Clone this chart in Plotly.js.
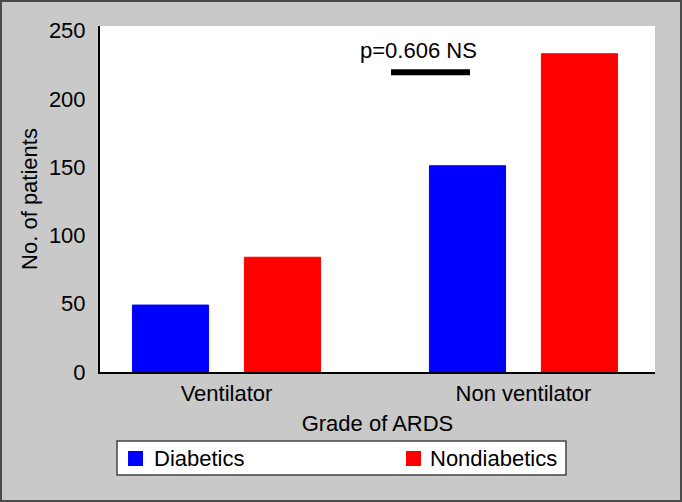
<!DOCTYPE html>
<html>
<head>
<meta charset="utf-8">
<script src="https://cdn.plot.ly/plotly-3.0.1.min.js"></script>
<style>
  html, body { margin: 0; padding: 0; background: #4a4a4a; }
  #chart { width: 678px; height: 498px; border: 2px solid #4a4a4a; }
</style>
</head>
<body>
<div id="chart"></div>
<script>
const categories = ["Ventilator", "Non ventilator"];
const diabetics = [49, 151];
const nondiabetics = [84, 233];
const seriesNames = ["Diabetics", "Nondiabetics"];
const seriesColors = ["#0000ff", "#ff0000"];
const yTicks = [0, 50, 100, 150, 200, 250];
const pLabel = "p=0.606 NS";
const pLineLevel = 219.5;

const FONT = "Liberation Sans, Arial, Helvetica, sans-serif";

const traces = [diabetics, nondiabetics].map((vals, i) => ({
  type: "bar", name: seriesNames[i], x: categories, y: vals,
  marker: { color: seriesColors[i], line: { color: seriesColors[i], width: 1 } },
  hoverinfo: "skip", showlegend: false
}));

// Manual legend (paper coordinates) to match the framed legend box below the axis
const legendBox = { x0: 0.0306, x1: 0.8396, y0: -0.1994, y1: -0.2977 };
const legendSymbolX = [[0.0505, 0.0775], [0.5514, 0.5784]];
const legendTextX = [0.0955, 0.5928];
const legendSymbolY = [-0.2283, -0.2717];
const legendTextY = -0.2486;

const shapes = [
  {
    type: "line", xref: "x", yref: "y",
    x0: 0.554, x1: 0.82, y0: pLineLevel, y1: pLineLevel,
    line: { color: "#000000", width: 6 }
  },
  {
    type: "rect", xref: "paper", yref: "paper",
    x0: legendBox.x0, x1: legendBox.x1, y0: legendBox.y0, y1: legendBox.y1,
    fillcolor: "#ffffff", line: { color: "#444444", width: 1.5 }
  }
];
seriesNames.forEach((n, i) => {
  shapes.push({
    type: "rect", xref: "paper", yref: "paper",
    x0: legendSymbolX[i][0], x1: legendSymbolX[i][1],
    y0: legendSymbolY[0], y1: legendSymbolY[1],
    fillcolor: seriesColors[i], line: { width: 0 }
  });
});

const annotations = [
  {
    xref: "x", yref: "y", x: 0.645, y: 235.7,
    text: pLabel, showarrow: false,
    xanchor: "center", yanchor: "middle",
    font: { family: FONT, size: 22, color: "#000000" }
  }
];
seriesNames.forEach((n, i) => {
  annotations.push({
    xref: "paper", yref: "paper", x: legendTextX[i], y: legendTextY,
    text: n, showarrow: false, xanchor: "left", yanchor: "middle",
    borderpad: 0,
    font: { family: FONT, size: 22, color: "#000000" }
  });
});

const layout = {
  width: 678, height: 498,
  margin: { l: 98, r: 25, t: 24, b: 128 },
  paper_bgcolor: "#c9c9c9",
  plot_bgcolor: "#ffffff",
  font: { family: FONT, size: 22, color: "#000000" },
  barmode: "group",
  bargap: 0.246,
  bargroupgap: 0.32,
  showlegend: false,
  xaxis: {
    type: "category",
    range: [-0.426, 1.443],
    showline: true, linecolor: "#000000", linewidth: 2,
    ticks: "outside", ticklen: 1, tickcolor: "rgba(0,0,0,0)",
    showgrid: false, zeroline: false,
    tickfont: { family: FONT, size: 22, color: "#000000" },
    title: { text: "Grade of ARDS", font: { family: FONT, size: 22, color: "#000000" }, standoff: 10 }
  },
  yaxis: {
    range: [0, 253.3],
    tickvals: yTicks,
    showline: true, linecolor: "#000000", linewidth: 2,
    ticks: "outside", ticklen: 8, tickcolor: "rgba(0,0,0,0)",
    showgrid: false, zeroline: false,
    tickfont: { family: FONT, size: 22, color: "#000000" },
    title: { text: "No. of patients", font: { family: FONT, size: 22, color: "#000000" }, standoff: 5 }
  },
  shapes: shapes,
  annotations: annotations
};

Plotly.newPlot("chart", traces, layout, { displayModeBar: false, staticPlot: true });
</script>
</body>
</html>
